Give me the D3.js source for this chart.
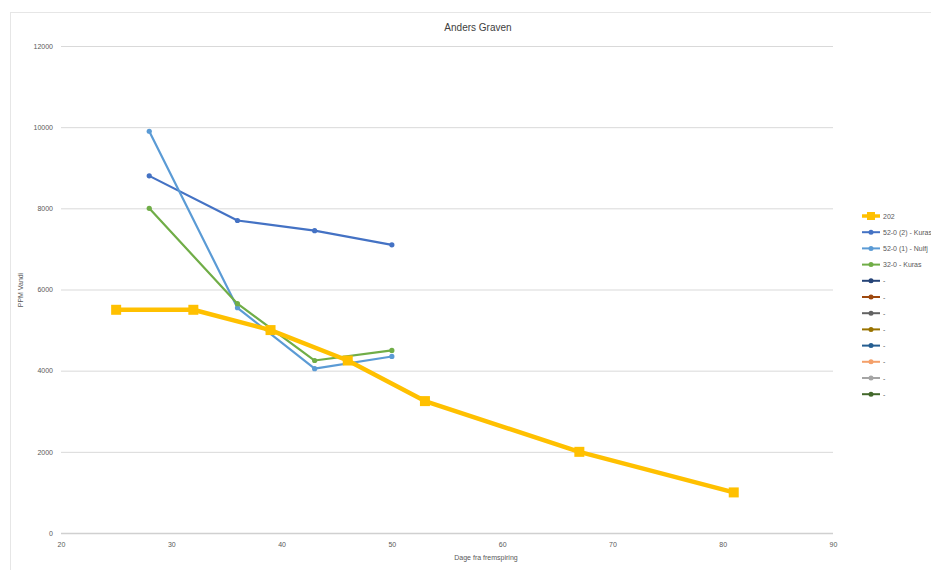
<!DOCTYPE html>
<html><head><meta charset="utf-8">
<script src="https://cdn.jsdelivr.net/npm/d3@7"></script>
<style>body{margin:0;background:#fff}text{font-family:"Liberation Sans Narrow","Liberation Sans",Arial,sans-serif}</style>
</head><body>
<svg id="c" width="931" height="570"></svg>
<script>
const title = "Anders Graven";
const xTicks = [20,30,40,50,60,70,80,90];
const yTicks = [0,2000,4000,6000,8000,10000,12000];
const s202x = [25,32,39,46,53,67,81];
const s202y = [5500,5500,5000,4250,3250,2000,1000];
const s52_2x = [28,36,43,50];
const s52_2y = [8800,7700,7450,7100];
const s52_1x = [28,36,43,50];
const s52_1y = [9900,5550,4050,4350];
const s32x = [28,36,43,50];
const s32y = [8000,5650,4250,4500];
const legendLabels = ["202","52-0 (2) - Kuras","52-0 (1) - Nulfj","32-0 - Kuras","-","-","-","-","-","-","-","-"];
const legendColors = ["#FFC000","#4472C4","#5B9BD5","#70AD47","#264478","#9E480E","#636363","#997300","#255E91","#F4A06A","#A5A5A5","#43682B"];

const svg = d3.select("#c");
svg.append("rect").attr("x",10.5).attr("y",12.5).attr("width",940).attr("height",570).attr("fill","#fff").attr("stroke","#e6e6e6");
const x = d3.scaleLinear().domain([20,90]).range([61,833]);
const y = d3.scaleLinear().domain([0,12000]).range([533,46]);

const gy = svg.append("g").attr("transform","translate(61,0)")
  .call(d3.axisLeft(y).tickValues(yTicks).tickSize(-772).tickPadding(8).tickFormat(d3.format("d")));
gy.select(".domain").remove();
gy.selectAll(".tick line").attr("stroke","#d9d9d9").attr("stroke-width",1);
gy.selectAll(".tick text").attr("fill","#595959").style("font-size","7px");
gy.selectAll(".tick").filter(d=>d===0).select("line").attr("stroke","#d0d0d0").attr("stroke-width",1.5);

const gx = svg.append("g").attr("transform","translate(0,533)")
  .call(d3.axisBottom(x).tickValues(xTicks).tickSize(0).tickPadding(9));
gx.select(".domain").remove();
gx.selectAll(".tick text").attr("fill","#595959").style("font-size","7px");

svg.append("text").attr("x",478).attr("y",31).attr("text-anchor","middle").attr("fill","#404040").style("font-size","10px").text(title);
svg.append("text").attr("x",486).attr("y",560).attr("text-anchor","middle").attr("fill","#595959").style("font-size","7px").text("Dage fra fremspiring");
svg.append("text").attr("transform","translate(23,290) rotate(-90)").attr("text-anchor","middle").attr("fill","#595959").style("font-size","7px").text("PPM Vandi");

const line = d3.line().x(d=>x(d[0])).y(d=>y(d[1]));
function series(xs, ys, color, w, marker){
  const pts = xs.map((v,i)=>[v,ys[i]]);
  svg.append("path").datum(pts).attr("d",line).attr("fill","none").attr("stroke",color).attr("stroke-width",w).attr("stroke-linejoin","round");
  if(marker==="sq"){
    svg.selectAll(null).data(pts).enter().append("rect")
      .attr("x",d=>x(d[0])-5).attr("y",d=>y(d[1])-5).attr("width",10).attr("height",10).attr("fill",color);
  } else {
    svg.selectAll(null).data(pts).enter().append("circle")
      .attr("cx",d=>x(d[0])).attr("cy",d=>y(d[1])).attr("r",2.6).attr("fill",color);
  }
}
series(s52_2x,s52_2y,"#4472C4",2.2,"c");
series(s52_1x,s52_1y,"#5B9BD5",2.2,"c");
series(s32x,s32y,"#70AD47",2.2,"c");
series(s202x,s202y,"#FFC000",4.5,"sq");

const lg = svg.append("g");
legendLabels.forEach((lab,i)=>{
  const yy = 216 + i*16.2;
  const c = legendColors[i];
  if(i===0){
    lg.append("line").attr("x1",862).attr("x2",880).attr("y1",yy).attr("y2",yy).attr("stroke",c).attr("stroke-width",3.5);
    lg.append("rect").attr("x",867).attr("y",yy-4).attr("width",8).attr("height",8).attr("fill",c);
  } else {
    lg.append("line").attr("x1",862).attr("x2",880).attr("y1",yy).attr("y2",yy).attr("stroke",c).attr("stroke-width",2);
    lg.append("circle").attr("cx",871).attr("cy",yy).attr("r",2.5).attr("fill",c);
  }
  lg.append("text").attr("x",883).attr("y",yy+2.5).attr("fill","#595959").style("font-size","7px").text(lab);
});
</script>
</body></html>
